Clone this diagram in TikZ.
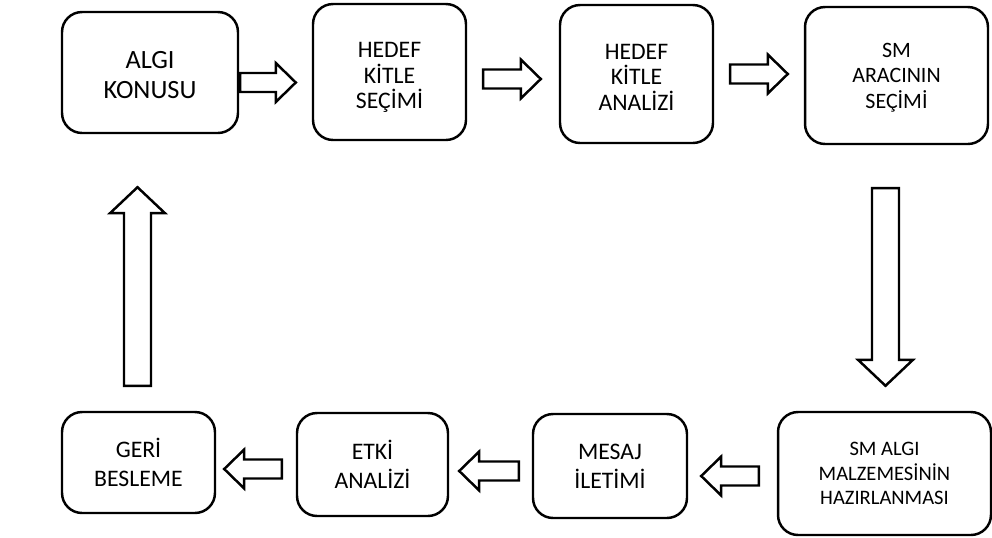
\documentclass[tikz,border=0pt]{standalone}
\usepackage{fontspec}
\setmainfont{Carlito}
\usetikzlibrary{calc}

\tikzset{
    stage/.style={draw, line width=1.4pt, rounded corners=4mm, align=center,
        inner sep=0pt, font=\fontsize{13.5}{14.5}\selectfont},
    lift/.style 2 args={text height=#1, text depth=#2},
    blockarrow/.style n args={3}{draw, line width=1.4pt, line join=miter,
        to path={($(\tikztotarget)!#3!(\tikztostart)$) coordinate (bah)
            ($(\tikztostart)!#1!90:(\tikztotarget)$) -- ($(bah)!#1!90:(\tikztotarget)$)
            -- ($(bah)!#2!90:(\tikztotarget)$) -- (\tikztotarget)
            -- ($(bah)!#2!-90:(\tikztotarget)$) -- ($(bah)!#1!-90:(\tikztotarget)$)
            -- ($(\tikztostart)!#1!-90:(\tikztotarget)$) -- cycle}},
    harrow/.style={blockarrow={1.9mm}{3.9mm}{4mm}},
    varrow/.style={blockarrow={2.7mm}{5.5mm}{5.2mm}}
}

\begin{document}
\begin{tikzpicture}[x=0.02cm, y=-0.02cm]
    \useasboundingbox (0,0) rectangle (992,538);
    % Top row
    \node[stage, minimum width=3.52cm, minimum height=2.42cm, lift={29.5pt}{0pt},
        font=\fontsize{15}{17}\selectfont] (algi) at (150,72.5) {ALGI\\KONUSU};
    \node[stage, minimum width=3.06cm, minimum height=2.72cm, lift={42pt}{0.3pt}]
        (hks) at (389.5,72) {HEDEF\\KİTLE\\SEÇİMİ};
    \node[stage, minimum width=3.06cm, minimum height=2.76cm, lift={41.1pt}{0pt}]
        (hka) at (636.5,74) {HEDEF\\KİTLE\\ANALİZİ};
    \node[stage, minimum width=3.66cm, minimum height=2.74cm, lift={37pt}{0pt},
        font=\fontsize{12.5}{14.5}\selectfont] (sma) at (896.5,75.5) {SM\\ARACININ\\SEÇİMİ};
    % Bottom row
    \node[stage, minimum width=4.26cm, minimum height=2.46cm,
        font=\fontsize{11.7}{14}\selectfont] (smalgi) at (884.5,473.5) {SM ALGI\\MALZEMESİNİN\\HAZIRLANMASI};
    \node[stage, minimum width=3.08cm, minimum height=2.08cm,
        font=\fontsize{13.5}{16.5}\selectfont] (mesaj) at (610,466) {MESAJ\\İLETİMİ};
    \node[stage, minimum width=3.02cm, minimum height=2.06cm,
        font=\fontsize{13.5}{16.5}\selectfont] (etki) at (372.5,464.5) {ETKİ\\ANALİZİ};
    \node[stage, minimum width=3.06cm, minimum height=2.02cm,
        font=\fontsize{13.5}{16.5}\selectfont] (geri) at (138.5,462.5) {GERİ\\BESLEME};

    % Arrow ends
    \coordinate (a1s) at ($(algi.east)+(1,10)$);
    \coordinate (a1e) at ($(hks.west)+(-16,10.5)$);
    \coordinate (a2s) at ($(hks.east)+(16,7)$);
    \coordinate (a2e) at ($(hka.west)+(-18,5)$);
    \coordinate (a3s) at ($(hka.east)+(16,0)$);
    \coordinate (a3e) at ($(sma.west)+(-16,-1.5)$);
    \coordinate (a5s) at ($(smalgi.west)+(-18,2.5)$);
    \coordinate (a5e) at ($(mesaj.east)+(13,10)$);
    \coordinate (a6s) at ($(mesaj.west)+(-13,5)$);
    \coordinate (a6e) at ($(etki.east)+(10,6.5)$);
    \coordinate (a7s) at ($(etki.west)+(-14,4.5)$);
    \coordinate (a7e) at ($(geri.east)+(8,6.5)$);
    \coordinate (a4s) at ($(sma.south)+(-11,43)$);
    \coordinate (a4e) at ($(smalgi.north)+(1,-25)$);
    \coordinate (a8s) at ($(geri.north)+(-1,-25)$);
    \coordinate (a8e) at ($(algi.south)+(-12.5,53)$);

    \foreach \s/\e in {a1s/a1e, a2s/a2e, a3s/a3e, a5s/a5e, a6s/a6e, a7s/a7e}
        \draw[harrow] (\s) to (\e);
    \draw[varrow] (a4s) to (a4e);
    \draw[varrow] (a8s) to (a8e);
\end{tikzpicture}
\end{document}
